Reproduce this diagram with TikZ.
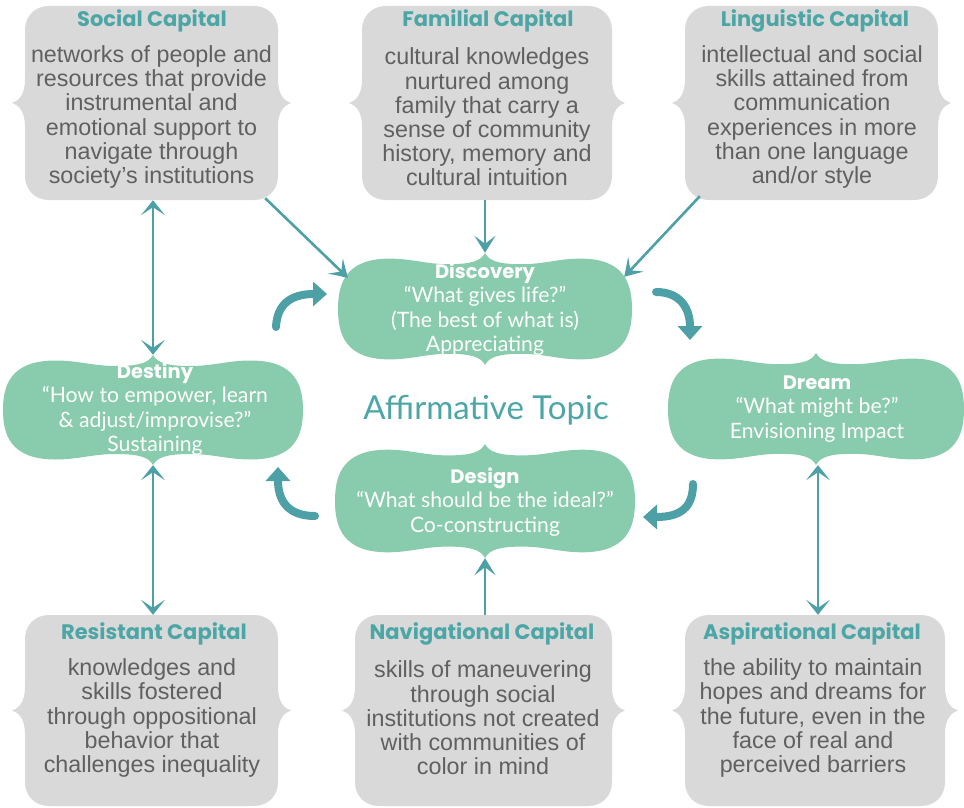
\documentclass[tikz,border=0pt]{standalone}
\usepackage{fontspec}
\setmainfont{Liberation Sans}
\newfontfamily\titlefont{Poppins}
\newfontfamily\greenfont{Lato}
\usetikzlibrary{arrows.meta,calc}
\definecolor{arrowteal}{RGB}{77,160,165}
\definecolor{titleteal}{RGB}{76,166,166}
\definecolor{greenfill}{RGB}{137,203,173}
\definecolor{boxgray}{RGB}{217,217,217}
\definecolor{bodygray}{RGB}{96,96,96}
\newcommand\grayshape[4]{%
\begin{scope}[shift={(#1,#2)}]
\fill[boxgray] ({-#3+24},{-#4}) -- ({#3-24},{-#4}) .. controls ({#3-10},{-#4}) and ({#3},{-#4+10}) .. ({#3},{-#4+24}) -- ({#3},-24) .. controls ({#3},-7) and ({#3+7},-2) .. ({#3+13},0) .. controls ({#3+7},2) and ({#3},7) .. ({#3},24) -- ({#3},{#4-24}) .. controls ({#3},{#4-10}) and ({#3-10},{#4}) .. ({#3-24},{#4}) -- ({-#3+24},{#4}) .. controls ({-#3+10},{#4}) and ({-#3},{#4-10}) .. ({-#3},{#4-24}) -- ({-#3},24) .. controls ({-#3},7) and ({-#3-7},2) .. ({-#3-13},0) .. controls ({-#3-7},-2) and ({-#3},-7) .. ({-#3},-24) -- ({-#3},{-#4+24}) .. controls ({-#3},{-#4+10}) and ({-#3+10},{-#4}) .. cycle;
\end{scope}}
\newcommand\greenshape[4]{%
\begin{scope}[shift={(#1,#2)}, x=#3pt, y=#4pt]
\fill[greenfill] (0,1) .. controls (-0.03,0.85) and (-0.1,0.8) .. (-0.25,0.8) .. controls (-0.4,0.8) and (-0.5,0.9) .. (-0.65,0.9) .. controls (-0.95,0.9) and (-1,0.45) .. (-1,0) .. controls (-1,-0.45) and (-0.95,-0.9) .. (-0.65,-0.9) .. controls (-0.5,-0.9) and (-0.4,-0.8) .. (-0.25,-0.8) .. controls (-0.1,-0.8) and (-0.03,-0.85) .. (0,-1) .. controls (0.03,-0.85) and (0.1,-0.8) .. (0.25,-0.8) .. controls (0.4,-0.8) and (0.5,-0.9) .. (0.65,-0.9) .. controls (0.95,-0.9) and (1,-0.45) .. (1,0) .. controls (1,0.45) and (0.95,0.9) .. (0.65,0.9) .. controls (0.5,0.9) and (0.4,0.8) .. (0.25,0.8) .. controls (0.1,0.8) and (0.03,0.85) .. cycle;
\end{scope}}
\newcommand\greenhead[1]{{\titlefont\bfseries\fontsize{19.5}{24.3}\selectfont #1}}
\tikzset{
  holder/.style={rectangle, inner sep=0pt},
  captitle/.style={font=\titlefont\bfseries\fontsize{21}{24}\selectfont, text=titleteal, inner sep=0pt},
  capbody/.style={font=\fontsize{23.3}{24.2}\selectfont, text=bodygray, align=center, inner sep=0pt},
  greentext/.style={font=\greenfont\fontsize{21.2}{24.3}\selectfont, text=white, align=center, inner sep=0pt},
  thinarrow/.style={draw=arrowteal, line width=2.6pt, -{Stealth[length=17pt,width=21pt,inset=8pt]}},
  dblarrow/.style={draw=arrowteal, line width=2.6pt, {Stealth[length=15pt,width=24pt,inset=8pt]}-{Stealth[length=15pt,width=24pt,inset=8pt]}},
  cyclearrow/.style={draw=arrowteal, line width=8pt, line cap=round, -{Triangle[length=14pt,width=24pt]}}
}
\begin{document}
\begin{tikzpicture}[x=1pt,y=-1pt]
\useasboundingbox (0,0) rectangle (964,808);
% gray boxes
\grayshape{151.5}{103}{126.5}{97}
\grayshape{487}{103}{125}{97}
\grayshape{811.5}{103}{126.5}{97}
\grayshape{151.5}{710.5}{126.5}{95.5}
\grayshape{483.5}{710.5}{128.5}{95.5}
\grayshape{815}{710.5}{130}{95.5}
\node[holder, minimum width=253, minimum height=194] (social) at (151.5,103) {};
\node[holder, minimum width=250, minimum height=194] (fam) at (487,103) {};
\node[holder, minimum width=253, minimum height=194] (ling) at (811.5,103) {};
\node[holder, minimum width=253, minimum height=191] (resist) at (151.5,710.5) {};
\node[holder, minimum width=257, minimum height=191] (nav) at (483.5,710.5) {};
\node[holder, minimum width=260, minimum height=191] (asp) at (815,710.5) {};
\node[captitle] (socialT) at (152,21) {Social Capital};
\node[capbody] (socialB) at (151.5,117) {networks of people and\\resources that provide\\instrumental and\\emotional support to\\navigate through\\society’s institutions};
\node[captitle] (famT) at (488,21) {Familial Capital};
\node[capbody] (famB) at (487,117) {cultural knowledges\\nurtured among\\family that carry a\\sense of community\\history, memory and\\cultural intuition};
\node[captitle] (lingT) at (815,21) {Linguistic Capital};
\node[capbody] (lingB) at (812,117) {intellectual and social\\skills attained from\\communication\\experiences in more\\than one language\\and/or style};
\node[captitle] (resistT) at (154,634) {Resistant Capital};
\node[capbody] (resistB) at (152,718) {knowledges and\\skills fostered\\through oppositional\\behavior that\\challenges inequality};
\node[captitle] (navT) at (482,634) {Navigational Capital};
\node[capbody] (navB) at (483,718) {skills of maneuvering\\through social\\institutions not created\\with communities of\\color in mind};
\node[captitle] (aspT) at (812,634) {Aspirational Capital};
\node[capbody] (aspB) at (813,718) {the ability to maintain\\hopes and dreams for\\the future, even in the\\face of real and\\perceived barriers};
% green shapes
\greenshape{485}{309}{147}{56}
\greenshape{153}{410}{150}{55}
\greenshape{485}{501}{150}{57}
\greenshape{816}{409}{148}{56}
\node[holder, minimum width=294, minimum height=112] (disc) at (485,309) {};
\node[holder, minimum width=300, minimum height=110] (dest) at (153,410) {};
\node[holder, minimum width=300, minimum height=114] (design) at (485,501) {};
\node[holder, minimum width=296, minimum height=112] (dream) at (816,409) {};
% straight connectors
\draw[thinarrow] ($(social.south east)+(-13,-2)$) -- ($(disc.north west)+(10,25)$);
\draw[thinarrow] ($(ling.south west)+(15,-4)$) -- ($(disc.north east)+(-8,24)$);
\draw[thinarrow] (fam.south -| disc.north) -- (disc.north);
\draw[dblarrow] (social.south -| dest.north) -- (dest.north);
\draw[dblarrow] (dest.south) -- (resist.north -| dest.south);
\draw[dblarrow] ($(dream.south)+(2,0)$) -- ($(asp.north -| dream.south)+(2,0)$);
\draw[thinarrow] (nav.north -| design.south) -- (design.south);
% cycle arrows
\coordinate (c1a) at (276,327); \coordinate (c1b) at (327,294);
\coordinate (c2a) at (656,292); \coordinate (c2b) at (690,340);
\coordinate (c3a) at (693,484); \coordinate (c3b) at (643,517);
\coordinate (c4a) at (315,516); \coordinate (c4b) at (278,467);
\draw[cyclearrow] (c1a) .. controls (277,305) and (290,294) .. (c1b);
\draw[cyclearrow] (c2a) .. controls (680,292) and (690,308) .. (c2b);
\draw[cyclearrow] (c3a) .. controls (693,508) and (680,517) .. (c3b);
\draw[cyclearrow] (c4a) .. controls (290,516) and (278,503) .. (c4b);
% green texts
\node[greentext] (discT) at (485,309) {\greenhead{Discovery}\\“What gives life?”\\(The best of what is)\\Appreciating};
\node[greentext] (destT) at (155,409) {\greenhead{Destiny}\\“How to empower, learn\\\& adjust/improvise?”\\Sustaining};
\node[greentext] (designT) at (485,502) {\greenhead{Design}\\“What should be the ideal?”\\Co-constructing};
\node[greentext] (dreamT) at (817,409) {\greenhead{Dream}\\“What might be?”\\Envisioning Impact};
\node[font=\greenfont\fontsize{33}{36}\selectfont, text=titleteal, inner sep=0pt] (topic) at (486,410) {Affirmative Topic};
\end{tikzpicture}
\end{document}
